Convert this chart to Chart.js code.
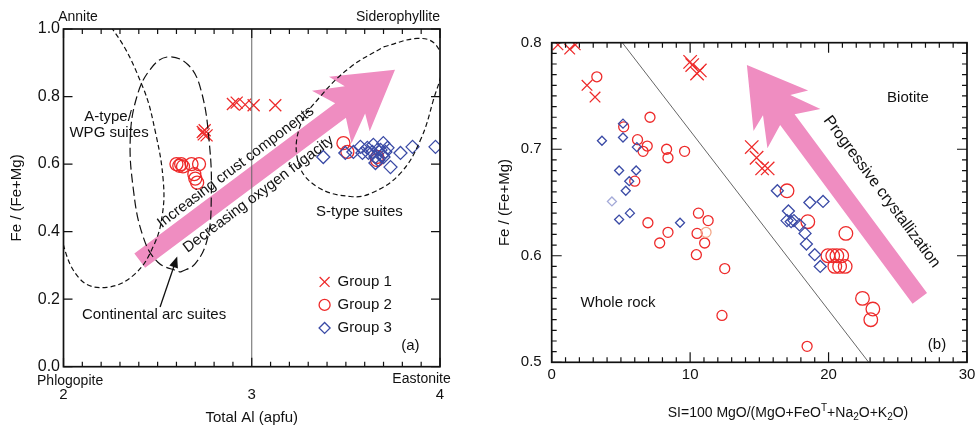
<!DOCTYPE html>
<html>
<head>
<meta charset="utf-8">
<script src="https://cdn.jsdelivr.net/npm/chart.js@4.4.1/dist/chart.umd.min.js"></script>
<style>
html, body { margin: 0; padding: 0; background: #fff; overflow: hidden; width: 975px; height: 428px; }
#chartA { position: absolute; left: 0; top: 0; }
#chartB { position: absolute; left: 480px; top: 0; }
</style>
</head>
<body>
<canvas id="chartA" width="480" height="428"></canvas>
<canvas id="chartB" width="510" height="428"></canvas>
<script>
'use strict';

const FONT = "'Liberation Sans', Arial, sans-serif";
const RED = '#EE2B2B';
const BLUE = '#3B4BA6';
const PINK = '#EF8DC1';
Chart.defaults.font.family = FONT;
Chart.defaults.color = '#111';

// ---- panel (a): Fe/(Fe+Mg) vs total Al
const A_X_TICKS = [2, 3, 4];
const A_Y_TICKS = [0, 0.2, 0.4, 0.6, 0.8, 1.0];

const A_GROUP1 = [[2.74,0.695],[2.75,0.70],[2.76,0.685],[2.745,0.688],[2.90,0.778],[2.92,0.782],[2.965,0.776],[3.01,0.774],[3.125,0.774]];
const A_GROUP2 = [[2.60,0.600],[2.615,0.595],[2.625,0.600],[2.635,0.593],[2.68,0.600],[2.72,0.600],[2.695,0.570],[2.70,0.557],[2.71,0.545],
                  [3.487,0.662],[3.508,0.636],[3.667,0.621],[3.665,0.612]];
const A_GROUP3 = [[3.38,0.621],[3.497,0.633],[3.54,0.636],[3.577,0.651],[3.588,0.633],[3.614,0.648],[3.62,0.633],[3.641,0.636],
                  [3.646,0.657],[3.657,0.621],[3.668,0.642],[3.684,0.642],[3.694,0.627],[3.699,0.662],[3.71,0.636],[3.721,0.648],
                  [3.657,0.603],[3.737,0.591],[3.79,0.633],[3.854,0.651],[3.976,0.651],[3.673,0.612],[3.70,0.621]];

// field outlines (x, y)
const A_FIELD_WPG = [[1.93,1.00],[2.10,1.075],[2.26,1.00],[2.42,0.83],[2.49,0.69],[2.53,0.55],[2.525,0.45],[2.48,0.36],
                     [2.38,0.275],[2.23,0.235],[2.09,0.258],[1.99,0.38],[1.90,0.64],[1.93,1.00]];
const A_FIELD_ARC = [[2.62,0.28],[2.70,0.305],[2.765,0.38],[2.785,0.50],[2.775,0.66],[2.73,0.82],[2.66,0.895],[2.55,0.917],
                     [2.46,0.88],[2.39,0.80],[2.355,0.68],[2.37,0.53],[2.42,0.39],[2.50,0.31],[2.62,0.28]];
const A_FIELD_STYPE = [[3.70,0.947],[3.88,0.972],[3.975,0.955],[4.01,0.89],[3.965,0.79],[3.896,0.671],[3.79,0.573],[3.64,0.515],
                       [3.524,0.504],[3.35,0.532],[3.25,0.60],[3.255,0.71],[3.364,0.80],[3.524,0.887],[3.70,0.947]];
const A_DIVIDER = [[3, 0], [3, 1]];

// ---- panel (b): Fe/(Fe+Mg) vs solidification index
const B_X_TICKS = [0, 10, 20, 30];
const B_Y_TICKS = [0.5, 0.6, 0.7, 0.8];

const B_GROUP1_WR = [[0.45,0.798],[1.3,0.794],[1.7,0.798],[2.55,0.760],[3.13,0.749]];
const B_GROUP1_BT = [[10.0,0.782],[10.15,0.779],[10.5,0.771],[10.7,0.774],[14.45,0.702],[14.8,0.692],[15.2,0.682],[15.6,0.682]];
const B_GROUP2_WR = [[3.26,0.768],[5.2,0.721],[7.1,0.730],[6.2,0.709],[6.6,0.698],[6.9,0.703],[8.3,0.700],[8.4,0.692],[9.6,0.698],
                     [6.0,0.670],[6.95,0.631],[10.6,0.640],[11.3,0.633],[10.5,0.621],[11.05,0.612],[8.4,0.622],[7.8,0.612],
                     [10.45,0.601],[12.5,0.588],[12.3,0.544],[18.45,0.515]];
const B_GROUP2_WR_FAINT = [[11.15,0.622]];
const B_GROUP2_BT = [[17.0,0.661],[18.5,0.632],[21.25,0.621],[19.95,0.600],[20.3,0.600],[20.6,0.600],[20.95,0.600],
                     [20.45,0.590],[20.8,0.590],[21.2,0.590],[22.45,0.560],[23.2,0.550],[23.05,0.540]];
const B_GROUP3_WR = [[5.15,0.724],[3.63,0.708],[5.15,0.711],[6.15,0.702],[4.87,0.680],[6.1,0.680],[5.6,0.670],[5.35,0.661],
                     [5.65,0.640],[4.87,0.634],[9.27,0.631]];
const B_GROUP3_WR_FAINT = [[4.35,0.651]];
const B_GROUP3_BT = [[16.3,0.661],[18.65,0.650],[19.6,0.651],[17.1,0.642],[17.0,0.633],[17.3,0.632],[17.5,0.633],[17.9,0.629],
                     [18.3,0.621],[18.4,0.611],[19.0,0.601],[19.4,0.590]];
const B_DIVIDER = [[5.1, 0.8], [22.9, 0.5]];

const xy = arr => arr.map(([x, y]) => ({ x, y }));

function marks(data, style, color, r) {
    return {
        data: xy(data), showLine: false, pointStyle: style,
        pointRadius: r, pointHoverRadius: r, pointBorderWidth: 1.3,
        pointBorderColor: color, pointBackgroundColor: 'rgba(0,0,0,0)',
    };
}

function outline(data, dash, color = '#111', width = 1.2, tension = 0.4) {
    return {
        data: xy(data), showLine: true, tension, capBezierPoints: false,
        pointRadius: 0, borderColor: color, borderWidth: width, borderDash: dash, fill: false,
    };
}

function fatArrow(ctx, p0, p1, half, color) {
    const dx = p1[0] - p0[0], dy = p1[1] - p0[1], L = Math.hypot(dx, dy);
    const ux = dx / L, uy = dy / L, nx = -uy, ny = ux;
    // head outline: distance back from the tip, offset from the axis
    const head = [[0, 0], [57, 34], [50, 17], [79, 33], [68, half]];
    const side = s => head.map(([b, n]) => [L - b, n * s]);
    const pts = [...side(1), [0, half], [0, -half], ...side(-1).reverse()];
    ctx.beginPath();
    pts.forEach(([s, n], i) => {
        const x = p0[0] + ux * s + nx * n, y = p0[1] + uy * s + ny * n;
        i ? ctx.lineTo(x, y) : ctx.moveTo(x, y);
    });
    ctx.closePath();
    ctx.fillStyle = color;
    ctx.fill();
}

function pointer(ctx, p0, p1) {
    const a = Math.atan2(p1[1] - p0[1], p1[0] - p0[0]);
    ctx.strokeStyle = '#111'; ctx.fillStyle = '#111'; ctx.lineWidth = 1.3;
    ctx.beginPath(); ctx.moveTo(p0[0], p0[1]);
    ctx.lineTo(p1[0] - 8 * Math.cos(a), p1[1] - 8 * Math.sin(a)); ctx.stroke();
    ctx.beginPath();
    ctx.moveTo(p1[0], p1[1]);
    ctx.lineTo(p1[0] - 11 * Math.cos(a) + 4.5 * Math.sin(a), p1[1] - 11 * Math.sin(a) - 4.5 * Math.cos(a));
    ctx.lineTo(p1[0] - 11 * Math.cos(a) - 4.5 * Math.sin(a), p1[1] - 11 * Math.sin(a) + 4.5 * Math.cos(a));
    ctx.closePath(); ctx.fill();
}

const toPx = (chart, p) => [chart.scales.x.getPixelForValue(p[0]), chart.scales.y.getPixelForValue(p[1])];

function drawFrame(chart, f) {
    const ctx = chart.ctx, a = chart.chartArea, sx = chart.scales.x, sy = chart.scales.y;
    ctx.save();
    ctx.strokeStyle = '#111';
    ctx.lineWidth = 1.2;
    ctx.beginPath();
    const tx = (v, len) => {
        const p = sx.getPixelForValue(v);
        ctx.moveTo(p, a.bottom); ctx.lineTo(p, a.bottom - len);
        ctx.moveTo(p, a.top); ctx.lineTo(p, a.top + len);
    };
    const ty = (v, len) => {
        const p = sy.getPixelForValue(v);
        ctx.moveTo(a.left, p); ctx.lineTo(a.left + len, p);
        ctx.moveTo(a.right, p); ctx.lineTo(a.right - len, p);
    };
    if (f.xMinor) {
        const n = Math.round((sx.max - sx.min) / f.xMinor);
        for (let i = 0; i <= n; i++) tx(sx.min + i * f.xMinor, f.minor);
    }
    if (f.yMinor) {
        const n = Math.round((sy.max - sy.min) / f.yMinor);
        for (let i = 0; i <= n; i++) ty(sy.min + i * f.yMinor, f.minor);
    }
    f.xMajor.forEach(v => tx(v, f.major));
    f.yMajor.forEach(v => ty(v, f.major));
    ctx.stroke();
    ctx.lineWidth = 1.7;
    ctx.strokeRect(a.left, a.top, a.right - a.left, a.bottom - a.top);
    ctx.restore();
}

const decor = {
    id: 'decor',
    beforeDatasetsDraw(chart, args, o) {
        const ctx = chart.ctx, a = chart.chartArea;
        ctx.save();
        ctx.beginPath(); ctx.rect(a.left, a.top, a.right - a.left, a.bottom - a.top); ctx.clip();
        (o.arrows || []).forEach(ar => fatArrow(ctx, toPx(chart, ar.from), toPx(chart, ar.to), ar.half, PINK));
        ctx.restore();
    },
    afterDatasetsDraw(chart, args, o) {
        const ctx = chart.ctx;
        (o.labels || []).forEach(l => {
            const [x, y] = toPx(chart, l.at);
            ctx.save();
            ctx.translate(x, y);
            ctx.rotate((l.rot || 0) * Math.PI / 180);
            ctx.font = `${l.size || 15}px ${FONT}`;
            ctx.fillStyle = '#111';
            ctx.textAlign = l.align || 'center';
            ctx.textBaseline = 'middle';
            ctx.fillText(l.text, 0, 0);
            ctx.restore();
        });
        (o.pointers || []).forEach(p => { ctx.save(); pointer(ctx, toPx(chart, p.from), toPx(chart, p.to)); ctx.restore(); });
        if (o.legend) {
            const [x0, y0] = toPx(chart, o.legend.at);
            o.legend.items.forEach((it, i) => {
                const y = y0 + i * o.legend.gap;
                ctx.save();
                ctx.strokeStyle = it.color; ctx.fillStyle = 'rgba(0,0,0,0)'; ctx.lineWidth = 1.3;
                Chart.helpers.drawPoint(ctx, { pointStyle: it.style, radius: it.r, rotation: 0, borderWidth: 1.3 }, x0, y);
                ctx.font = `15px ${FONT}`; ctx.fillStyle = '#111';
                ctx.textAlign = 'left'; ctx.textBaseline = 'middle';
                ctx.fillText(it.text, x0 + 13, y);
                ctx.restore();
            });
        }
    },
    afterDraw(chart, args, o) {
        if (o.frame) drawFrame(chart, o.frame);
        if (o.xTitle) {
            const ctx = chart.ctx, t = o.xTitle;
            ctx.save();
            ctx.fillStyle = '#111'; ctx.textBaseline = 'middle'; ctx.textAlign = 'left';
            const fontOf = k => `${k ? 10 : 14}px ${FONT}`;
            let w = 0;
            t.parts.forEach(([s, k]) => { ctx.font = fontOf(k); w += ctx.measureText(s).width; });
            let x = t.x - w / 2;
            t.parts.forEach(([s, k]) => {
                ctx.font = fontOf(k);
                const dy = k === 'sub' ? 4 : k === 'sup' ? -5 : 0;
                ctx.fillText(s, x, t.y + dy);
                x += ctx.measureText(s).width;
            });
            ctx.restore();
        }
    },
};

function axis(min, max, ticks, fmt, size, pad, fit, extra) {
    return Object.assign({
        type: 'linear', min, max,
        afterBuildTicks: s => { s.ticks = ticks.map(v => ({ value: v })); },
        afterFit: fit,
        grid: { display: false, drawTicks: false }, border: { display: false },
        ticks: { font: { size, family: FONT }, color: '#111', padding: pad, maxRotation: 0, autoSkip: false, callback: fmt },
    }, extra);
}

const base = {
    responsive: false, animation: false, events: [],
    plugins: { legend: { display: false }, tooltip: { enabled: false } },
};

new Chart(document.getElementById('chartA'), {
    type: 'scatter',
    plugins: [decor],
    data: {
        datasets: [
            outline(A_DIVIDER, [], '#666', 1, 0),
            outline(A_FIELD_WPG, [5, 3]),
            outline(A_FIELD_ARC, [9, 4]),
            outline(A_FIELD_STYPE, [5, 3]),
            marks(A_GROUP3, 'rectRot', BLUE, 6.5),
            marks(A_GROUP2, 'circle', RED, 6.5),
            marks(A_GROUP1, 'crossRot', RED, 8.5),
        ],
    },
    options: {
        ...base,
        layout: { padding: { left: 0, right: 40, top: 29, bottom: 0 } },
        scales: {
            x: axis(2, 4, A_X_TICKS, v => v, 15, 19, s => { s.height = 61.3; }, {
                title: { display: true, text: 'Total Al (apfu)', font: { size: 15, family: FONT }, color: '#111', padding: { top: 0, bottom: 1 } },
            }),
            y: axis(0, 1, A_Y_TICKS, v => v.toFixed(1), 16, 3.5, s => { s.width = 63.5; }, {
                title: { display: true, text: 'Fe / (Fe+Mg)', font: { size: 15, family: FONT }, color: '#111', padding: { top: 8, bottom: 0 } },
            }),
        },
        plugins: {
            ...base.plugins,
            decor: {
                frame: { xMajor: A_X_TICKS, xMinor: 0.1, yMajor: A_Y_TICKS, yMinor: 0, major: 9, minor: 5 },
                arrows: [{ from: [2.405, 0.314], to: [3.761, 0.879], half: 9 }],
                pointers: [{ from: [2.513, 0.177], to: [2.604, 0.326] }],
                labels: [
                    { text: 'Annite', at: [2.077, 1.036], size: 14 },
                    { text: 'Siderophyllite', at: [4.0, 1.036], size: 14, align: 'right' },
                    { text: 'Phlogopite', at: [2.035, -0.042], size: 14 },
                    { text: 'Eastonite', at: [3.902, -0.036], size: 14 },
                    { text: 'A-type/', at: [2.237, 0.739] },
                    { text: 'WPG suites', at: [2.242, 0.692] },
                    { text: 'S-type suites', at: [3.572, 0.458] },
                    { text: 'Continental arc suites', at: [2.481, 0.153] },
                    { text: '(a)', at: [3.843, 0.061] },
                    { text: 'Increasing crust components', at: [2.915, 0.591], rot: -37, size: 15 },
                    { text: 'Decreasing oxygen fugacity', at: [3.036, 0.511], rot: -37, size: 15 },
                ],
                legend: {
                    at: [3.387, 0.251], gap: 23,
                    items: [
                        { text: 'Group 1', style: 'crossRot', color: RED, r: 7 },
                        { text: 'Group 2', style: 'circle', color: RED, r: 5.5 },
                        { text: 'Group 3', style: 'rectRot', color: BLUE, r: 5.5 },
                    ],
                },
            },
        },
    },
});

new Chart(document.getElementById('chartB'), {
    type: 'scatter',
    plugins: [decor],
    data: {
        datasets: [
            outline(B_DIVIDER, [], '#666', 1, 0),
            marks(B_GROUP3_WR_FAINT, 'rectRot', '#A4AAD8', 4.5),
            marks(B_GROUP3_WR, 'rectRot', BLUE, 4.5),
            marks(B_GROUP3_BT, 'rectRot', BLUE, 6),
            marks(B_GROUP2_WR_FAINT, 'circle', '#F3A98A', 5),
            marks(B_GROUP2_WR, 'circle', RED, 5),
            marks(B_GROUP2_BT, 'circle', RED, 6.8),
            marks(B_GROUP1_WR, 'crossRot', RED, 7.5),
            marks(B_GROUP1_BT, 'crossRot', RED, 9.5),
        ],
    },
    options: {
        ...base,
        layout: { padding: { left: 0, right: 23, top: 42.7, bottom: 0 } },
        scales: {
            x: axis(0, 30, B_X_TICKS, v => v, 15, 4, s => { s.height = 65.7; }, {}),
            y: axis(0.5, 0.8, B_Y_TICKS, v => v.toFixed(1), 15, 10, s => { s.width = 71.7; }, {
                title: { display: true, text: 'Fe / (Fe+Mg)', font: { size: 15, family: FONT }, color: '#111', padding: { top: 16, bottom: 0 } },
            }),
        },
        plugins: {
            ...base.plugins,
            decor: {
                frame: { xMajor: B_X_TICKS, xMinor: 1, yMajor: B_Y_TICKS, yMinor: 0.01, major: 10, minor: 5 },
                arrows: [{ from: [26.59, 0.560], to: [14.10, 0.779], half: 9 }],
                labels: [
                    { text: 'Biotite', at: [25.73, 0.748] },
                    { text: 'Whole rock', at: [4.79, 0.556] },
                    { text: '(b)', at: [27.83, 0.516] },
                    { text: 'Progressive crystallization', at: [23.84, 0.660], rot: 53.4, size: 16 },
                ],
                xTitle: {
                    x: 308, y: 413,
                    parts: [['SI=100 MgO/(MgO+FeO', 0], ['T', 'sup'], ['+Na', 0], ['2', 'sub'], ['O+K', 0], ['2', 'sub'], ['O)', 0]],
                },
            },
        },
    },
});
</script>
</body>
</html>
